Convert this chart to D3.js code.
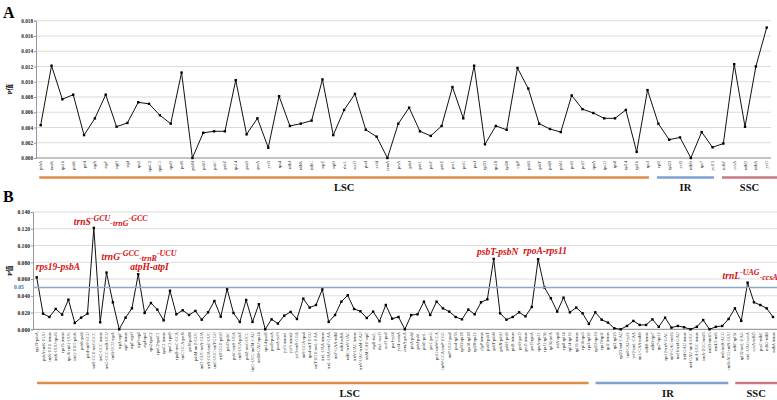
<!DOCTYPE html>
<html lang="en">
<head>
    <meta charset="utf-8">
    <script src="https://d3js.org/d3.v7.min.js"></script>
    <style>
        body { margin: 0; background: #fff; }
        text { font-family: "Liberation Serif", "Times New Roman", "Noto Sans CJK SC", serif; }
        .tick text { font-weight: bold; }
    </style>
</head>
<body>
<div id="chart"></div>
<script>
    // ---- Panel A: genes ----
    const genesA = [
        "psbA", "matK", "rps16", "psbK", "psbI", "atpA", "atpF", "atpH", "atpI", "rps2",
        "rpoC2", "rpoC1", "rpoB", "petN", "psbM", "psbD", "psbC", "psbZ", "rps14", "psaB",
        "psaA", "ycf3", "rps4", "ndhJ", "ndhK", "ndhC", "atpE", "atpB", "rbcL", "accD",
        "psaI", "ycf4", "cemA", "petA", "psbJ", "psbL", "psbF", "psbE", "petL", "petG",
        "psaJ", "rpl33", "rps18", "rpl20", "clpP", "psbB", "psbT", "psbN", "psbH", "petB",
        "petD", "rpoA", "rps11", "rps8", "rpl14", "rpl16", "rps3",
        "rpl2", "rpl23", "ycf2", "ndhB", "rps7", "ycf15",
        "ndhF", "ccsA", "ndhD", "ndhA", "ycf1"
    ];
    const valuesA = [
        0.0043, 0.0121, 0.0077, 0.0083, 0.0030, 0.0052, 0.0083, 0.0041, 0.0046, 0.0073,
        0.0071, 0.0056, 0.0045, 0.0112, 0.0000, 0.0033, 0.0035, 0.0035, 0.0102, 0.0031,
        0.0052, 0.00135, 0.0081, 0.0042, 0.0045, 0.0049, 0.0103, 0.0030, 0.0063, 0.0084,
        0.0037, 0.0028, 0.0000, 0.0045, 0.0066, 0.0035, 0.0029, 0.0042, 0.0093, 0.0052,
        0.0121, 0.0018, 0.0042, 0.0037, 0.0118, 0.0091, 0.0045, 0.0038, 0.0034, 0.0082,
        0.0064, 0.0059, 0.0052, 0.0052, 0.0063, 0.0008, 0.0089,
        0.0045, 0.0024, 0.0027, 0.0000, 0.0034, 0.0014,
        0.0019, 0.0123, 0.0041, 0.0120, 0.0171
    ];
    const ticksA = [0, 0.002, 0.004, 0.006, 0.008, 0.010, 0.012, 0.014, 0.016, 0.018];
    const regionsA = [
        { name: "LSC", from: 0, to: 56 },
        { name: "IR", from: 57, to: 62 },
        { name: "SSC", from: 63, to: 67 }
    ];

    // ---- Panel B: intergenic regions ----
    const regionsLabelsB = [
        "rps19-psbA", "psbA-trnK-UUU", "trnK-UUU intron", "trnK-UUU-rps16", "rps16 intron",
        "rps16-trnQ-UUG", "trnQ-UUG-psbK", "psbK-psbI", "psbI-trnS-GCU", "trnS-GCU-trnG-GCC",
        "trnG-GCC intron", "trnG-GCC-trnR-UCU", "trnR-UCU-atpA", "atpA-atpF", "atpF intron",
        "atpF-atpH", "atpH-atpI", "atpI-rps2", "rps2-rpoC2", "rpoC2-rpoC1",
        "rpoC1 intron", "rpoC1-rpoB", "rpoB-trnC-GCA", "trnC-GCA-petN", "petN-psbM",
        "psbM-trnD-GUC", "trnD-GUC-trnY-GUA", "trnY-GUA-trnE-UUC", "trnE-UUC-trnT-GGU", "trnT-GGU-psbD",
        "psbD-psbC", "psbC-trnS-UGA", "trnS-UGA-psbZ", "psbZ-trnG-UCC", "trnG-UCC-trnfM-CAU",
        "trnfM-CAU-rps14", "rps14-psaB", "psaB-psaA", "psaA-ycf3", "ycf3 intron1",
        "ycf3 intron2", "ycf3-trnS-GGA", "trnS-GGA-rps4", "rps4-trnT-UGU", "trnT-UGU-trnL-UAA",
        "trnL-UAA intron", "trnL-UAA-trnF-GAA", "trnF-GAA-ndhJ", "ndhJ-ndhK", "ndhC-trnV-UAC",
        "trnV-UAC intron", "trnV-UAC-trnM-CAU", "trnM-CAU-atpE", "atpB-rbcL", "rbcL-accD",
        "accD-psaI", "psaI-ycf4", "ycf4-cemA", "cemA-petA", "petA-psbJ",
        "psbJ-psbL", "psbE-petL", "petL-petG", "petG-trnW-CCA", "trnW-CCA-trnP-UGG",
        "trnP-UGG-psaJ", "psaJ-rpl33", "rpl33-rps18", "rps18-rpl20", "rpl20-rps12",
        "clpP intron", "psbB-psbT", "psbT-psbN", "psbN-psbH", "psbH-petB",
        "petB intron", "petB-petD", "petD intron", "petD-rpoA", "rpoA-rps11",
        "rps11-rpl36", "rpl36-infA", "infA-rps8", "rps8-rpl14", "rpl14-rpl16",
        "rpl16 intron", "rpl16-rps3", "rps3-rpl22",
        "rpl22-rps19", "rps19-rpl2", "rpl2 intron", "rpl2-rpl23", "rpl23-trnI-CAU",
        "trnI-CAU-ycf2", "ycf2-trnL-CAA", "trnL-CAA-ndhB", "ndhB intron", "ndhB-rps7",
        "rps7-rps12", "rps12-trnV-GAC", "trnV-GAC-rrn16", "rrn16-trnI-GAU", "trnI-GAU intron",
        "trnI-GAU-trnA-UGC", "trnA-UGC intron", "trnA-UGC-rrn23", "rrn23-rrn4.5", "rrn4.5-rrn5",
        "rrn5-trnR-ACG", "trnR-ACG-trnN-GUU",
        "ndhF-rpl32", "rpl32-trnL-UAG", "trnL-UAG-ccsA", "ccsA-ndhD", "psaC-ndhE",
        "ndhG-ndhI", "ndhA intron"
    ];
    const valuesB = [
        0.062, 0.0187, 0.0147, 0.0243, 0.0175, 0.0354, 0.0076, 0.0139, 0.0187, 0.121,
        0.0084, 0.0677, 0.0322, 0.0000, 0.0139, 0.0250, 0.0657, 0.0195, 0.0314, 0.0235,
        0.0107, 0.0460, 0.0179, 0.0227, 0.0171, 0.0219, 0.0115, 0.0203, 0.0338, 0.0151,
        0.0480, 0.0195, 0.0088, 0.0350, 0.0088, 0.0299, 0.0000, 0.0119, 0.0068, 0.0163,
        0.0207, 0.0123, 0.0366, 0.0259, 0.0290, 0.0478, 0.0088, 0.0171, 0.0330, 0.0406,
        0.0243, 0.0215, 0.0135, 0.0211, 0.0096, 0.0290, 0.0127, 0.0147, 0.0000, 0.0170,
        0.0179, 0.0330, 0.0171, 0.0330, 0.0250, 0.0211, 0.0147, 0.0119, 0.0235, 0.0179,
        0.0322, 0.0358, 0.0840, 0.0191, 0.0115, 0.0147, 0.0203, 0.0155, 0.0267, 0.0836,
        0.0498, 0.0370, 0.0211, 0.0378, 0.0203, 0.0259, 0.0191, 0.0064,
        0.0203, 0.0115, 0.0080, 0.0012, 0.0000, 0.0040, 0.0100, 0.0052, 0.0052, 0.0119,
        0.0030, 0.0139, 0.0020, 0.0040, 0.0024, 0.0000, 0.0030, 0.0110, 0.0000, 0.0030,
        0.0040, 0.0123,
        0.0250, 0.0100, 0.0557, 0.0322, 0.0290, 0.0250, 0.0147
    ];
    const ticksB = [0, 0.02, 0.04, 0.06, 0.08, 0.10, 0.12, 0.14];
    const regionsB = [
        { name: "LSC", from: 0, to: 87 },
        { name: "IR", from: 88, to: 109 },
        { name: "SSC", from: 110, to: 116 }
    ];
    const thresholdB = 0.05;

    // highlighted regions; parts: [text, 0 normal / 1 raised / -1 lowered]
    const annotationsB = [
        { at: "rps19-psbA", parts: [["rps19-psbA", 0]] },
        { at: "trnS-GCU-trnG-GCC", parts: [["trnS", 0], ["-GCU", 1], ["-trnG", -1], ["-GCC", 1]] },
        { at: "trnG-GCC-trnR-UCU", parts: [["trnG", 0], ["-GCC", 1], ["-trnR", -1], ["-UCU", 1]] },
        { at: "atpH-atpI", parts: [["atpH-atpI", 0]] },
        { at: "psbT-psbN", parts: [["psbT-psbN", 0]] },
        { at: "rpoA-rps11", parts: [["rpoA-rps11", 0]] },
        { at: "trnL-UAG-ccsA", parts: [["trnL", 0], ["-UAG", 1], ["-ccsA", -1]] }
    ];
    // where each annotation sits relative to its point
    const annotationOffsets = {
        "rps19-psbA": [-1, -7, "start"],
        "trnS-GCU-trnG-GCC": [-20, -3, "start"],
        "trnG-GCC-trnR-UCU": [-5, -13, "start"],
        "atpH-atpI": [-8, -4, "start"],
        "psbT-psbN": [4, -4, "middle"],
        "rpoA-rps11": [7, -5, "middle"],
        "trnL-UAG-ccsA": [-25, -4, "start"]
    };

    const regionColors = { LSC: "#df8c47", IR: "#7e9fd0", SSC: "#c97a82" };

    const W = 777, H = 400;
    const svg = d3.select("#chart").append("svg")
        .attr("width", W)
        .attr("height", H);

    function drawPanel(opt) {
        const g = svg.append("g");
        const x = d3.scalePoint().domain(opt.labels).range([opt.x0, opt.x1]);
        const y = d3.scaleLinear().domain([0, opt.yMax]).range([opt.bottom, opt.top]);

        // grid
        g.selectAll(".grid")
            .data(opt.ticks.filter(d => d > 0))
            .join("line")
            .attr("x1", opt.axisX).attr("x2", opt.gridRight)
            .attr("y1", d => y(d)).attr("y2", d => y(d))
            .attr("stroke", "#dcdcdc").attr("stroke-width", 1);

        // y axis
        const ya = g.append("g")
            .attr("transform", `translate(${opt.axisX},0)`)
            .call(d3.axisLeft(y).tickValues(opt.ticks).tickFormat(d3.format(".3f")).tickSize(2));
        ya.select(".domain").attr("stroke", "#999");
        ya.selectAll(".tick line").attr("stroke", "#999");
        ya.selectAll(".tick text").style("font-size", opt.yFont + "px").attr("fill", "#222").attr("x", -3);

        // baseline
        g.append("line")
            .attr("x1", opt.axisX).attr("x2", opt.gridRight)
            .attr("y1", opt.bottom).attr("y2", opt.bottom)
            .attr("stroke", "#888").attr("stroke-width", 1);

        // x labels
        g.selectAll(".xl")
            .data(opt.labels)
            .join("text")
            .attr("transform", d => `translate(${x(d) + 1.5},${opt.bottom + 3}) rotate(-90)`)
            .attr("text-anchor", "end")
            .style("font-size", opt.xFont + "px")
            .attr("fill", "#222")
            .text(d => d);

        // line + points
        const pts = opt.labels.map((d, i) => [d, opt.values[i]]);
        g.append("path")
            .datum(pts)
            .attr("fill", "none")
            .attr("stroke", "#111")
            .attr("stroke-width", 1)
            .attr("d", d3.line().x(d => x(d[0])).y(d => y(d[1])));
        g.selectAll(".pt")
            .data(pts)
            .join("rect")
            .attr("x", d => x(d[0]) - 1.2).attr("y", d => y(d[1]) - 1.2)
            .attr("width", 2.4).attr("height", 2.4)
            .attr("fill", "#000");

        // region underlines
        const step = x.step();
        opt.regions.forEach((r, i) => {
            const s = x(opt.labels[r.from]) - step / 2 + opt.gap / 2;
            const e = i === opt.regions.length - 1 ? W : x(opt.labels[r.to]) + step / 2 - opt.gap / 2;
            g.append("line")
                .attr("x1", s).attr("x2", e)
                .attr("y1", opt.underlineY).attr("y2", opt.underlineY)
                .attr("stroke", regionColors[r.name]).attr("stroke-width", 2.5);
            const shift = (opt.labelShift && opt.labelShift[r.name]) || 0;
            g.append("text")
                .attr("x", (s + e) / 2 + shift)
                .attr("y", opt.regionLabelY)
                .attr("text-anchor", "middle")
                .style("font-size", "10.5px")
                .style("font-weight", "bold")
                .attr("fill", "#111")
                .text(r.name);
        });

        // panel letter + y title
        g.append("text")
            .attr("x", 3).attr("y", opt.letterY)
            .style("font-size", "16px").style("font-weight", "bold")
            .text(opt.letter);
        g.append("text")
            .attr("transform", `translate(12,${(opt.top + opt.bottom) / 2}) rotate(-90)`)
            .attr("text-anchor", "middle")
            .style("font-size", "6.5px").style("font-weight", "bold")
            .text("P值");

        return { g, x, y };
    }

    drawPanel({
        letter: "A", letterY: 18,
        labels: genesA, values: valuesA, ticks: ticksA, yMax: 0.018,
        top: 20.7, bottom: 158, axisX: 36, x0: 40.7, x1: 766.7, gridRight: 771,
        yFont: 5.2, xFont: 4.2, regions: regionsA, gap: 8,
        underlineY: 177.5, regionLabelY: 191
    });

    const pB = drawPanel({
        letter: "B", letterY: 202,
        labels: regionsLabelsB, values: valuesB, ticks: ticksB, yMax: 0.14,
        top: 212, bottom: 329.3, axisX: 33, x0: 36.7, x1: 773, gridRight: 777,
        yFont: 5.6, xFont: 4.2, regions: regionsB, gap: 7,
        underlineY: 383, regionLabelY: 397, labelShift: { LSC: 37, IR: 6 }
    });

    // threshold line
    pB.g.append("line")
        .attr("x1", 33).attr("x2", 777)
        .attr("y1", pB.y(thresholdB)).attr("y2", pB.y(thresholdB))
        .attr("stroke", "#8ca7c8").attr("stroke-width", 1.5);
    pB.g.append("text")
        .attr("x", 14).attr("y", pB.y(thresholdB) + 2)
        .style("font-size", "5.6px").style("font-weight", "bold")
        .attr("fill", "#2e75b6")
        .text(thresholdB.toFixed(2));

    // annotations
    annotationsB.forEach(a => {
        const i = regionsLabelsB.indexOf(a.at);
        const [dx, dy, anchor] = annotationOffsets[a.at];
        const t = pB.g.append("text")
            .attr("x", pB.x(a.at) + dx)
            .attr("y", pB.y(valuesB[i]) + dy)
            .attr("text-anchor", anchor)
            .attr("fill", "#d40f0f")
            .style("font-weight", "bold")
            .style("font-style", "italic")
            .style("font-size", "9.5px");
        let cur = 0;
        a.parts.forEach(([txt, pos]) => {
            const target = pos === 1 ? -3.5 : pos === -1 ? 1 : 0;
            t.append("tspan")
                .attr("dy", target - cur)
                .style("font-size", pos === 0 ? "9.5px" : "8px")
                .text(txt);
            cur = target;
        });
    });
</script>
</body>
</html>
